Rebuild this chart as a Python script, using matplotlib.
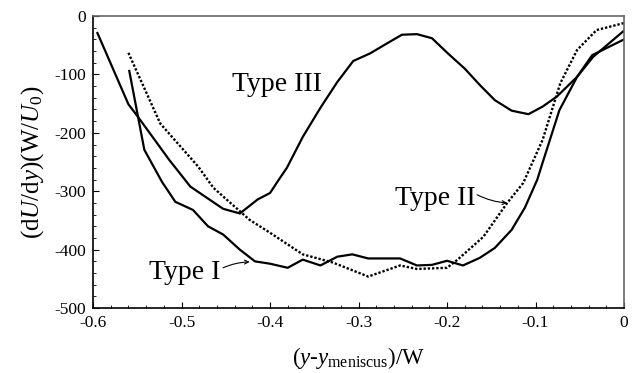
import numpy as np
import matplotlib
matplotlib.use('Agg')
import matplotlib.pyplot as plt
from matplotlib.ticker import MultipleLocator, FuncFormatter

plt.rcParams['font.family'] = ['Liberation Serif', 'DejaVu Serif']
plt.rcParams['mathtext.fontset'] = 'custom'
plt.rcParams['mathtext.rm'] = 'Liberation Serif'
plt.rcParams['mathtext.it'] = 'Liberation Serif:italic'

# Type I (solid, steep start)
x1 = [-0.559, -0.542, -0.522, -0.507, -0.487, -0.470, -0.453, -0.434, -0.417, -0.400,
      -0.380, -0.363, -0.343, -0.324, -0.307, -0.289, -0.253, -0.234, -0.217, -0.200,
      -0.182, -0.163, -0.146, -0.127, -0.112, -0.098, -0.092, -0.073, -0.053, -0.036, 0.0]
y1 = [-94, -229, -284, -318, -332, -360, -374, -400, -420, -424,
      -431, -417, -427, -412, -408, -415, -415, -427, -426, -419,
      -427, -414, -397, -366, -328, -280, -251, -161, -104, -67, -40]

# Type II (dotted)
x2 = [-0.560, -0.524, -0.481, -0.464, -0.423, -0.400, -0.363, -0.329, -0.289, -0.253,
      -0.234, -0.200, -0.188, -0.159, -0.132, -0.114, -0.092, -0.072, -0.053, -0.031, 0.0]
y2 = [-63, -184, -258, -294, -349, -371, -408, -422, -446, -427,
      -433, -431, -417, -378, -320, -286, -212, -115, -58, -24, -12]

# Type III (solid, starts at -0.6)
x3 = [-0.595, -0.560, -0.549, -0.514, -0.490, -0.453, -0.434, -0.414, -0.400, -0.390,
      -0.381, -0.363, -0.343, -0.324, -0.306, -0.287, -0.268, -0.251, -0.234, -0.217,
      -0.199, -0.180, -0.163, -0.146, -0.127, -0.108, -0.092, -0.076, -0.053, -0.035, 0.0]
y3 = [-29, -151, -173, -246, -292, -330, -338, -314, -303, -280,
      -260, -207, -157, -113, -77, -64, -47, -32, -31, -38,
      -64, -90, -118, -144, -162, -168, -155, -138, -104, -70, -25]

fig = plt.figure(figsize=(6.44, 3.73), dpi=100)
ax = fig.add_axes([0.1444, 0.174, 0.8246, 0.783])

ax.plot(x1, y1, color='black', lw=1.6)
ax.plot(x2, y2, color='black', lw=1.7, linestyle=(0, (1, 0.8)))
ax.plot(x3, y3, color='black', lw=1.6)

ax.set_xlim(-0.6, 0)
ax.set_ylim(-500, 0)
ax.xaxis.set_major_locator(MultipleLocator(0.1))
ax.xaxis.set_minor_locator(MultipleLocator(0.02))
ax.yaxis.set_major_locator(MultipleLocator(100))
ax.yaxis.set_minor_locator(MultipleLocator(20))
ax.xaxis.set_major_formatter(FuncFormatter(lambda v, p: '0' if abs(v) < 1e-9 else f'{v:.1f}'))
ax.yaxis.set_major_formatter(FuncFormatter(lambda v, p: f'{int(round(v))}'))
ax.tick_params(which='both', direction='in', top=False, right=False, labelsize=12.5, pad=5)
ax.tick_params(which='major', length=4, width=0.8)
ax.tick_params(which='minor', length=2, width=0.6)
for s in ['top', 'right']:
    ax.spines[s].set_color('#666666')
for s in ax.spines.values():
    s.set_linewidth(1.2)

ax.set_xlabel(r'($\mathit{y}$-$\mathit{y}_{\mathrm{meniscus}}$)/W', fontsize=16.5, labelpad=10)
ax.set_ylabel(r'(d$\mathit{U}$/d$\mathit{y}$)(W/$\mathit{U}_0$)', fontsize=18, labelpad=6)

ax.text(-0.392, -128, 'Type III', fontsize=20, ha='center', va='baseline')
ax.text(-0.496, -451, 'Type I', fontsize=20, ha='center', va='baseline')
ax.text(-0.2136, -323, 'Type II', fontsize=20, ha='center', va='baseline')

ap = dict(arrowstyle='->', color='black', lw=0.8, mutation_scale=7,
          shrinkA=0, shrinkB=0, connectionstyle='arc3,rad=-0.1')
ax.annotate('', xy=(-0.423, -421), xytext=(-0.453, -431), arrowprops=ap)
ax.annotate('', xy=(-0.132, -320), xytext=(-0.166, -306),
            arrowprops=dict(ap, connectionstyle='arc3,rad=0.1'))

fig.savefig('out.png', dpi=100)
